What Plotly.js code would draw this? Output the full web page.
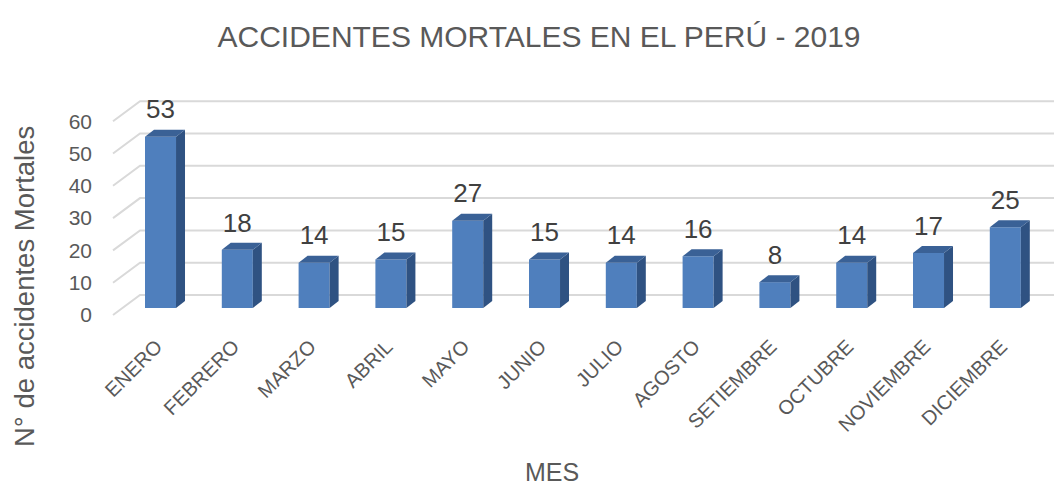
<!DOCTYPE html>
<html>
<head>
<meta charset="utf-8">
<script src="https://cdn.plot.ly/plotly-3.0.1.min.js"></script>
<style>html,body{margin:0;padding:0;background:#fff;}#chart{width:1054px;height:486px;}</style>
</head>
<body>
<div id="chart"></div>
<script>
// ---- data ----
const months = ["ENERO","FEBRERO","MARZO","ABRIL","MAYO","JUNIO","JULIO","AGOSTO","SETIEMBRE","OCTUBRE","NOVIEMBRE","DICIEMBRE"];
const deaths = [53, 18, 14, 15, 27, 15, 14, 16, 8, 14, 17, 25];
const yTicks = [0, 10, 20, 30, 40, 50, 60];
const chartTitle = 'ACCIDENTES MORTALES EN EL PERÚ - 2019';
const xTitle = 'MES';
const yTitle = 'N° de accidentes Mortales';

// ---- pseudo-3D geometry (in axis units) ----
const X_RANGE = [-0.827, 11.634];
const Y_RANGE = [-4.644, 69.66];
const BAR_W = 0.404, BAR_BASE = 2.167, DEPTH_X = 0.117, DEPTH_Y = 2.167;
const FLOOR_LEFT = -0.6185, WALL_DX = 0.3516, WALL_DY = 6.19;
const FRONT = '#4f7fbd', SIDE = '#2f5282', TOP = '#3a6196';
const FONT = 'Liberation Sans, Arial, sans-serif';

const xs = months.map((m, i) => i);

const shapes = yTicks.map(t => ({
  type: 'path', layer: 'below', xref: 'x', yref: 'y',
  path: `M ${FLOOR_LEFT},${t} L ${FLOOR_LEFT + WALL_DX},${t + WALL_DY} L ${X_RANGE[1] + 1},${t + WALL_DY}`,
  line: {color: '#d9d9d9', width: 2}
}));

const traces = [];
traces.push({
  type: 'bar', x: xs, y: deaths, base: BAR_BASE, width: BAR_W,
  marker: {color: FRONT, line: {width: 0}}, hoverinfo: 'skip'
});
deaths.forEach((v, i) => {
  const l = i - BAR_W / 2, r = i + BAR_W / 2, b = BAR_BASE, t = BAR_BASE + v;
  traces.push({
    type: 'scatter', mode: 'lines', fill: 'toself', fillcolor: SIDE,
    x: [r, r + DEPTH_X, r + DEPTH_X, r, r],
    y: [b, b + DEPTH_Y, t + DEPTH_Y, t, b],
    line: {width: 0, color: SIDE}, hoverinfo: 'skip'
  });
  traces.push({
    type: 'scatter', mode: 'lines', fill: 'toself', fillcolor: TOP,
    x: [l, r, r + DEPTH_X, l + DEPTH_X, l],
    y: [t, t, t + DEPTH_Y, t + DEPTH_Y, t],
    line: {width: 0, color: TOP}, hoverinfo: 'skip'
  });
});
traces.push({
  type: 'scatter', mode: 'text', x: xs, y: deaths.map(v => v + BAR_BASE + DEPTH_Y + 1.5),
  text: deaths.map(String), textposition: 'top center',
  textfont: {family: FONT, size: 26, color: '#404040'},
  hoverinfo: 'skip', cliponaxis: false
});

const layout = {
  width: 1054, height: 486,
  margin: {l: 97, r: 0, t: 90, b: 156},
  paper_bgcolor: '#ffffff', plot_bgcolor: '#ffffff',
  showlegend: false,
  font: {family: FONT, color: '#595959'},
  title: {
    text: chartTitle,
    font: {size: 30, color: '#595959'},
    xref: 'container', x: 0.5114, xanchor: 'center',
    yref: 'container', y: 0.924, yanchor: 'middle'
  },
  xaxis: {
    range: X_RANGE, tickmode: 'array', tickvals: xs, ticktext: months,
    tickangle: -45, tickfont: {size: 20, color: '#595959'},
    ticklabelshift: -4,
    showgrid: false, zeroline: false, showline: false, ticks: ''
  },
  yaxis: {
    range: Y_RANGE, tickmode: 'array', tickvals: yTicks,
    tickfont: {size: 21, color: '#595959'}, ticklabelstandoff: 4,
    showgrid: false, zeroline: false, showline: false, ticks: ''
  },
  annotations: [
    {text: yTitle, xref: 'paper', yref: 'paper', x: -0.0763, y: 0.183,
     xanchor: 'center', yanchor: 'middle', textangle: -90, showarrow: false,
     font: {family: FONT, size: 27.5, color: '#595959'}},
    {text: xTitle, xref: 'paper', yref: 'paper', x: 0.4755, y: -0.592,
     xanchor: 'center', yanchor: 'middle', showarrow: false,
     font: {family: FONT, size: 25, color: '#595959'}}
  ],
  shapes: shapes
};

Plotly.newPlot('chart', traces, layout, {displayModeBar: false, staticPlot: true});
</script>
</body>
</html>
